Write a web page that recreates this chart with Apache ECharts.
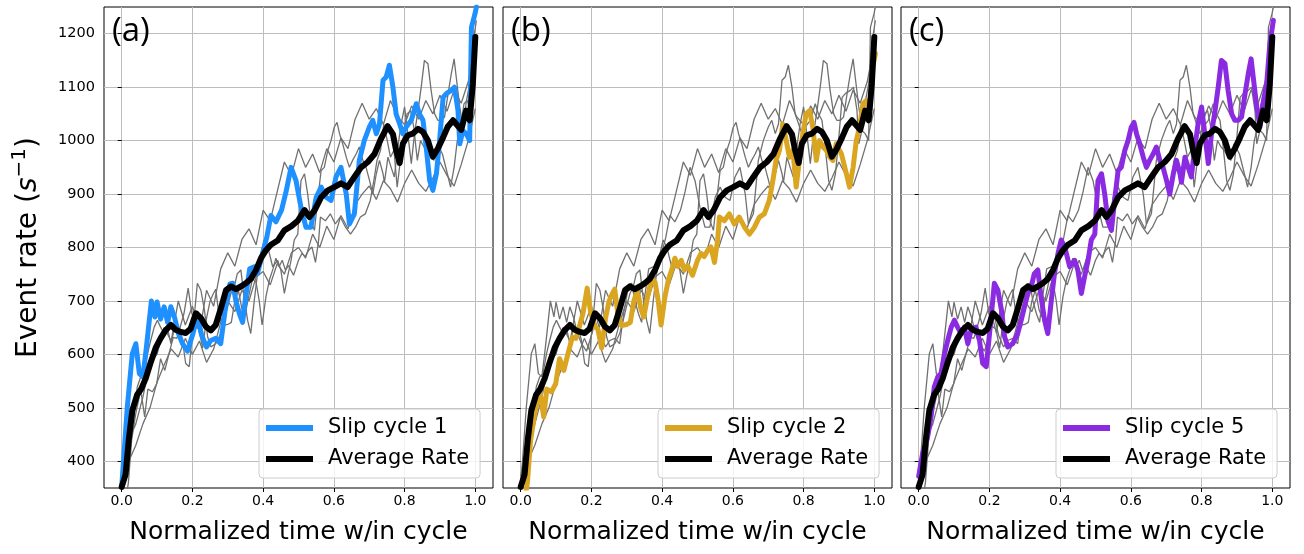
<!DOCTYPE html>
<html><head><meta charset="utf-8">
<script src="https://cdn.jsdelivr.net/npm/echarts@6/dist/echarts.min.js"></script>
<style>html,body{margin:0;padding:0;background:#fff}#c{width:1304px;height:554px}</style>
</head><body><div id="c"></div>
<script>
// ---- data ----
const xTicks = [0, 0.2, 0.4, 0.6, 0.8, 1.0];
const yTicks = [400, 500, 600, 700, 800, 900, 1000, 1100, 1200];
const panelLabels = ['(a)', '(b)', '(c)'];
const highlightNames = ['Slip cycle 1', 'Slip cycle 2', 'Slip cycle 5'];

const cycle1 = [[0.0,352],[0.016,502],[0.03,601],[0.04,620],[0.05,564],[0.06,558],[0.07,614],[0.084,700],[0.094,670],[0.10,698],[0.11,666],[0.12,689],[0.13,660],[0.139,689],[0.15,668],[0.16,640],[0.172,620],[0.186,606],[0.202,640],[0.214,672],[0.226,636],[0.24,614],[0.252,626],[0.266,630],[0.28,620],[0.292,680],[0.306,732],[0.314,733],[0.323,700],[0.333,676],[0.342,660],[0.35,705],[0.362,760],[0.375,764],[0.384,751],[0.396,783],[0.41,818],[0.422,860],[0.436,848],[0.452,870],[0.465,905],[0.479,950],[0.493,925],[0.507,875],[0.521,838],[0.535,838],[0.55,894],[0.564,913],[0.578,894],[0.592,888],[0.606,932],[0.62,950],[0.635,900],[0.644,844],[0.658,863],[0.672,963],[0.686,1000],[0.70,1025],[0.71,1038],[0.72,1013],[0.729,1031],[0.739,1113],[0.748,1119],[0.757,1141],[0.767,1100],[0.776,1050],[0.786,1031],[0.795,1013],[0.804,1025],[0.819,1038],[0.833,1069],[0.842,1050],[0.852,1038],[0.861,988],[0.871,925],[0.88,907],[0.89,938],[0.899,1000],[0.909,1081],[0.918,1088],[0.932,1094],[0.941,1100],[0.951,1056],[0.956,994],[0.965,1019],[0.974,1013],[0.984,1000],[0.989,1212],[0.999,1237],[1.003,1250]];

const cycle2 = [[0.0,280],[0.019,360],[0.028,439],[0.04,490],[0.054,533],[0.065,483],[0.074,535],[0.087,530],[0.099,545],[0.11,592],[0.122,570],[0.134,602],[0.146,632],[0.156,630],[0.165,650],[0.176,676],[0.188,724],[0.198,678],[0.21,651],[0.218,648],[0.229,612],[0.24,668],[0.25,700],[0.258,712],[0.266,722],[0.275,674],[0.285,654],[0.3,656],[0.31,660],[0.32,700],[0.33,720],[0.34,685],[0.348,670],[0.358,705],[0.37,742],[0.38,735],[0.389,700],[0.397,655],[0.408,708],[0.418,740],[0.428,760],[0.436,780],[0.445,764],[0.454,776],[0.463,758],[0.472,766],[0.486,748],[0.5,776],[0.51,789],[0.519,783],[0.529,795],[0.538,801],[0.548,772],[0.557,814],[0.562,857],[0.576,850],[0.59,863],[0.604,844],[0.618,857],[0.633,838],[0.647,825],[0.661,838],[0.675,857],[0.689,863],[0.703,888],[0.713,925],[0.722,963],[0.732,982],[0.741,1031],[0.751,1000],[0.76,969],[0.77,982],[0.779,913],[0.788,963],[0.798,1013],[0.807,1050],[0.817,1056],[0.826,1025],[0.836,963],[0.845,1000],[0.855,988],[0.864,982],[0.874,969],[0.883,963],[0.892,994],[0.907,975],[0.921,938],[0.93,913],[0.94,950],[0.949,1000],[0.958,1025],[0.968,1069],[0.977,1075],[0.987,1056],[0.996,1138],[1.003,1163]];

const cycle5 = [[0.0,372],[0.011,414],[0.025,445],[0.035,483],[0.044,539],[0.054,558],[0.063,564],[0.073,601],[0.082,626],[0.092,651],[0.101,664],[0.11,651],[0.12,639],[0.129,651],[0.139,620],[0.148,645],[0.162,651],[0.172,626],[0.181,583],[0.191,577],[0.205,670],[0.214,733],[0.224,720],[0.234,683],[0.243,633],[0.252,614],[0.266,620],[0.28,639],[0.29,664],[0.299,689],[0.309,714],[0.318,726],[0.327,751],[0.337,758],[0.346,708],[0.356,664],[0.365,639],[0.375,701],[0.384,751],[0.394,789],[0.403,814],[0.413,801],[0.427,764],[0.441,776],[0.45,758],[0.46,714],[0.469,745],[0.479,776],[0.488,814],[0.498,825],[0.507,925],[0.517,938],[0.526,900],[0.535,850],[0.545,832],[0.554,888],[0.564,944],[0.573,950],[0.583,982],[0.592,1000],[0.601,1025],[0.609,1034],[0.616,1013],[0.625,994],[0.635,969],[0.644,950],[0.653,963],[0.663,975],[0.672,988],[0.682,963],[0.691,950],[0.701,925],[0.71,900],[0.72,938],[0.729,963],[0.739,938],[0.743,922],[0.753,969],[0.762,950],[0.771,932],[0.781,988],[0.79,1031],[0.8,1063],[0.809,1013],[0.819,957],[0.828,1013],[0.838,1056],[0.847,1100],[0.856,1150],[0.866,1144],[0.875,1094],[0.885,1050],[0.894,1038],[0.904,1038],[0.913,1044],[0.923,1088],[0.932,1125],[0.94,1153],[0.946,1119],[0.956,1063],[0.965,1025],[0.975,1075],[0.984,1106],[0.993,1181],[1.003,1225]];

const otherX = [0,0.02,0.04,0.06,0.08,0.10,0.12,0.14,0.16,0.18,0.20,0.22,0.24,0.26,0.28,0.30,0.32,0.34,0.36,0.38,0.40,0.42,0.44,0.46,0.48,0.50,0.52,0.54,0.56,0.58,0.60,0.62,0.64,0.66,0.68,0.70,0.72,0.74,0.76,0.78,0.80,0.82,0.84,0.86,0.88,0.90,0.92,0.94,0.96,0.98,1.00];
const cycle3Y = [345,440,470,520,585,600,650,625,700,655,690,640,720,690,760,790,765,815,835,805,870,850,905,960,935,985,950,975,940,985,960,1005,985,1040,1070,1040,1060,1030,1075,1045,1030,1065,1040,1075,1050,1085,1055,1095,1070,1110,1180];
const cycle4Y = [330,400,430,470,500,548,580,610,595,630,600,625,585,610,660,700,680,720,700,745,755,730,770,750,790,800,780,825,800,840,815,860,835,880,900,915,890,925,910,885,920,945,920,905,930,960,935,915,955,1000,1060];

const averageRate = [[0.0,352],[0.011,375],[0.02,440],[0.03,495],[0.044,525],[0.055,535],[0.068,555],[0.082,585],[0.096,612],[0.11,630],[0.124,645],[0.139,655],[0.153,646],[0.167,642],[0.181,640],[0.195,648],[0.21,677],[0.224,668],[0.238,652],[0.252,645],[0.266,655],[0.28,685],[0.295,720],[0.309,727],[0.323,722],[0.337,727],[0.351,733],[0.365,741],[0.38,758],[0.394,780],[0.408,795],[0.422,805],[0.441,813],[0.46,832],[0.48,840],[0.498,850],[0.517,870],[0.531,857],[0.545,869],[0.564,894],[0.583,907],[0.601,913],[0.62,920],[0.639,913],[0.658,932],[0.677,950],[0.696,960],[0.715,975],[0.733,1003],[0.752,1027],[0.767,1012],[0.776,982],[0.786,958],[0.795,994],[0.809,1010],[0.823,1013],[0.838,1022],[0.852,1016],[0.866,1000],[0.88,970],[0.894,985],[0.909,1006],[0.922,1026],[0.937,1038],[0.946,1031],[0.96,1020],[0.974,1056],[0.984,1038],[0.993,1106],[1.0,1194]];

// ---- build ----
const cycle3 = otherX.map((x, i) => [x, cycle3Y[i]]);
const cycle4 = otherX.map((x, i) => [x, cycle4Y[i]]);
const allCycles = [cycle1, cycle2, cycle3, cycle4, cycle5];
const highlights = [cycle1, cycle2, cycle5];
const colors = ['#1e90ff', '#daa520', '#8a2be2'];

const FONT = 'DejaVu Sans';
const gridLefts = [104, 503, 901];
const gridW = 389, gridTop = 7, gridH = 481;

const option = {
  animation: false,
  backgroundColor: '#ffffff',
  title: panelLabels.map((t, i) => ({
    text: t, left: gridLefts[i] + 8, top: 15, padding: 0,
    textStyle: { fontFamily: 'Open Sans', fontSize: 33, fontWeight: 'normal', color: '#000' }
  })),
  grid: gridLefts.map(l => ({ left: l, top: gridTop, width: gridW, height: gridH, show: true,
    borderColor: '#000', borderWidth: 1, backgroundColor: 'rgba(0,0,0,0)' })),
  legend: gridLefts.map((l, i) => ({
    left: l + 155, top: 409, orient: 'vertical',
    data: [highlightNames[i], 'Average Rate'],
    icon: 'rect', itemWidth: 47, itemHeight: 6, itemGap: 9,
    padding: [8, 11, 8, 7],
    backgroundColor: 'rgba(255,255,255,0.8)', borderColor: '#cccccc', borderWidth: 1, borderRadius: 4,
    selectedMode: false,
    textStyle: { fontFamily: FONT, fontSize: 21, color: '#000', lineHeight: 22, padding: [0, 0, 0, 10] }
  })),
  xAxis: gridLefts.map((l, i) => ({
    gridIndex: i, type: 'value', min: -0.05, max: 1.05,
    axisLine: { show: false },
    axisTick: { show: true, length: 4, customValues: xTicks, lineStyle: { color: '#000' } },
    axisLabel: { customValues: xTicks, formatter: v => v.toFixed(1), fontFamily: FONT, fontSize: 14, color: '#000', margin: 6 },
    splitLine: { show: true, lineStyle: { color: '#bdbdbd', width: 1 } },
    name: 'Normalized time w/in cycle', nameLocation: 'middle', nameGap: 32,
    nameTextStyle: { fontFamily: FONT, fontSize: 25, color: '#000' }
  })),
  yAxis: gridLefts.map((l, i) => ({
    gridIndex: i, type: 'value', min: 350, max: 1250,
    axisLine: { show: false },
    axisTick: { show: true, length: 4, customValues: yTicks, lineStyle: { color: '#000' } },
    axisLabel: { show: i === 0, customValues: yTicks, formatter: v => String(v), fontFamily: FONT, fontSize: 14.5, color: '#000', margin: 9 },
    splitLine: { show: true, lineStyle: { color: '#bdbdbd', width: 1 } },
    name: i === 0 ? '{n|Event rate (}{i|s}{s|−1}{n|)}' : '', nameLocation: 'middle', nameGap: 57,
    nameTextStyle: { fontFamily: FONT, fontSize: 28, color: '#000',
      rich: {
        n: { fontFamily: FONT, fontSize: 28, lineHeight: 37, color: '#000' },
        i: { fontFamily: FONT, fontSize: 28, lineHeight: 37, fontStyle: 'italic', color: '#000' },
        s: { fontFamily: FONT, fontSize: 20, lineHeight: 20, verticalAlign: 'top', color: '#000' }
      } }
  })),
  series: []
};

gridLefts.forEach((l, i) => {
  allCycles.forEach((c, k) => {
    option.series.push({ type: 'line', name: 'cycle' + (k + 1) + '-gray-' + i, xAxisIndex: i, yAxisIndex: i,
      data: c, showSymbol: false, symbol: 'none', silent: true, z: 2,
      lineStyle: { color: '#707070', width: 1.3 } });
  });
  option.series.push({ type: 'line', name: highlightNames[i], xAxisIndex: i, yAxisIndex: i,
    data: highlights[i], showSymbol: false, symbol: 'none', z: 3,
    itemStyle: { color: colors[i] },
    lineStyle: { color: colors[i], width: 5, join: 'round', cap: 'round' } });
  option.series.push({ type: 'line', name: 'Average Rate', xAxisIndex: i, yAxisIndex: i,
    data: averageRate, showSymbol: false, symbol: 'none', z: 4,
    itemStyle: { color: '#000' },
    lineStyle: { color: '#000', width: 6, join: 'round', cap: 'round' } });
});

const chart = echarts.init(document.getElementById('c'), null, { renderer: 'canvas' });
chart.setOption(option);
</script>
</body></html>
